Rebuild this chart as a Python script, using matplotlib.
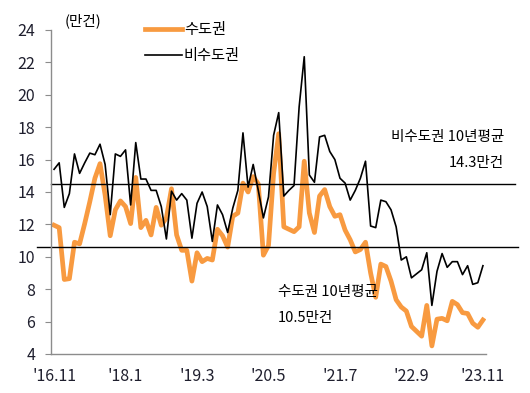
import matplotlib
matplotlib.use("Agg")
import matplotlib.pyplot as plt
import numpy as np

plt.rcParams['font.family'] = ['Noto Sans CJK KR', 'DejaVu Sans']

# monthly 2016.11 ~ 2023.11 (만건)
capital = [11.95, 11.8, 8.6, 8.65, 10.9, 10.8, 12.05, 13.4, 14.85, 15.75,
           13.8, 11.3, 12.9, 13.45, 13.1, 12.05, 14.9, 11.8, 12.25, 11.35,
           13.05, 11.95, 12.4, 14.2, 11.35, 10.4, 10.4, 8.5, 10.25, 9.7,
           9.9, 9.8, 11.7, 11.3, 10.6, 12.5, 12.7, 14.55, 14.0, 14.95,
           14.5, 10.1, 10.7, 15.15, 17.6, 11.85, 11.7, 11.55, 11.85, 15.9,
           12.7, 11.5, 13.75, 14.15, 13.1, 12.5, 12.6, 11.65, 11.05, 10.3,
           10.45, 10.9, 9.0, 7.5, 9.55, 9.4, 8.5, 7.35, 6.9, 6.65,
           5.7, 5.4, 5.1, 7.0, 4.5, 6.15, 6.2, 6.05, 7.25, 7.05,
           6.55, 6.5, 5.9, 5.65, 6.1]
non_capital = [15.4, 15.8, 13.05, 13.9, 16.35, 15.15, 15.8, 16.4, 16.3, 16.95,
               15.7, 12.6, 16.35, 16.2, 16.6, 13.2, 17.05, 14.8, 14.8, 14.1,
               14.1, 13.1, 11.1, 14.05, 13.5, 13.9, 13.5, 11.15, 13.3, 14.0,
               13.1, 10.95, 13.2, 12.6, 11.5, 13.0, 14.1, 17.65, 14.3, 15.7,
               14.1, 12.4, 13.7, 17.5, 18.9, 13.75, 14.1, 14.4, 19.25, 22.35,
               15.05, 14.6, 17.4, 17.5, 16.5, 16.0, 14.85, 14.55, 13.5, 14.1,
               14.85, 15.9, 11.9, 11.8, 13.5, 13.4, 12.9, 11.85, 9.8, 10.0,
               8.7, 8.95, 9.2, 10.25, 7.0, 9.1, 10.2, 9.35, 9.7, 9.7,
               8.9, 9.45, 8.3, 8.4, 9.45]
avg_non_capital = 14.5
avg_capital = 10.6
tick_pos = [0, 14, 28, 42, 56, 70, 84]
tick_labels = ["'16.11", "'18.1", "'19.3", "'20.5", "'21.7", "'22.9", "'23.11"]

W, H = 530, 393
fig = plt.figure(figsize=(W / 100, H / 100), dpi=100)
ax = fig.add_axes([51 / W, 1 - 354 / H, 435 / W, 324 / H])

x = np.arange(len(capital))
ax.plot(x, capital, color='#F89A40', lw=3.4, label='수도권')
ax.plot(x, non_capital, color='black', lw=1.2, label='비수도권')

ax.axhline(avg_non_capital, xmin=0, xmax=1.067, color='black', lw=1.0, clip_on=False)
ax.axhline(avg_capital, xmin=-0.032, xmax=1.074, color='black', lw=1.0, clip_on=False)

ax.set_xlim(-0.6, 84.6)
ax.set_ylim(4, 24)
ax.set_yticks(range(4, 25, 2))
ax.set_xticks(tick_pos)
ax.set_xticklabels(tick_labels)

for s in ['top', 'right']:
    ax.spines[s].set_visible(False)
for s in ['left', 'bottom']:
    ax.spines[s].set_color('#8c8c8c')
    ax.spines[s].set_linewidth(1.0)
ax.tick_params(axis='y', length=4.5, color='#8c8c8c', pad=7, labelsize=11.5, labelcolor='#1f1f2e')
ax.tick_params(axis='x', length=0, pad=10, labelsize=11.5, labelcolor='#1f1f2e')

fig.text(83.5 / W, 1 - 21 / H, '(만건)', ha='center', va='center', fontsize=10.5)

leg = ax.legend(loc='upper left', bbox_to_anchor=(145 / W, 1 - 21 / H),
                bbox_transform=fig.transFigure, frameon=False, fontsize=11,
                handlelength=2.4, handletextpad=0.15, labelspacing=0.6,
                borderpad=0, borderaxespad=0)

fig.text(504 / W, 1 - 137 / H, '비수도권 10년평균', ha='right', va='center', fontsize=10.5)
fig.text(504 / W, 1 - 163 / H, '14.3만건', ha='right', va='center', fontsize=10.5)
fig.text(278 / W, 1 - 292 / H, '수도권 10년평균', ha='left', va='center', fontsize=10.5)
fig.text(278 / W, 1 - 318 / H, '10.5만건', ha='left', va='center', fontsize=10.5)

fig.savefig('out.png', dpi=100)
